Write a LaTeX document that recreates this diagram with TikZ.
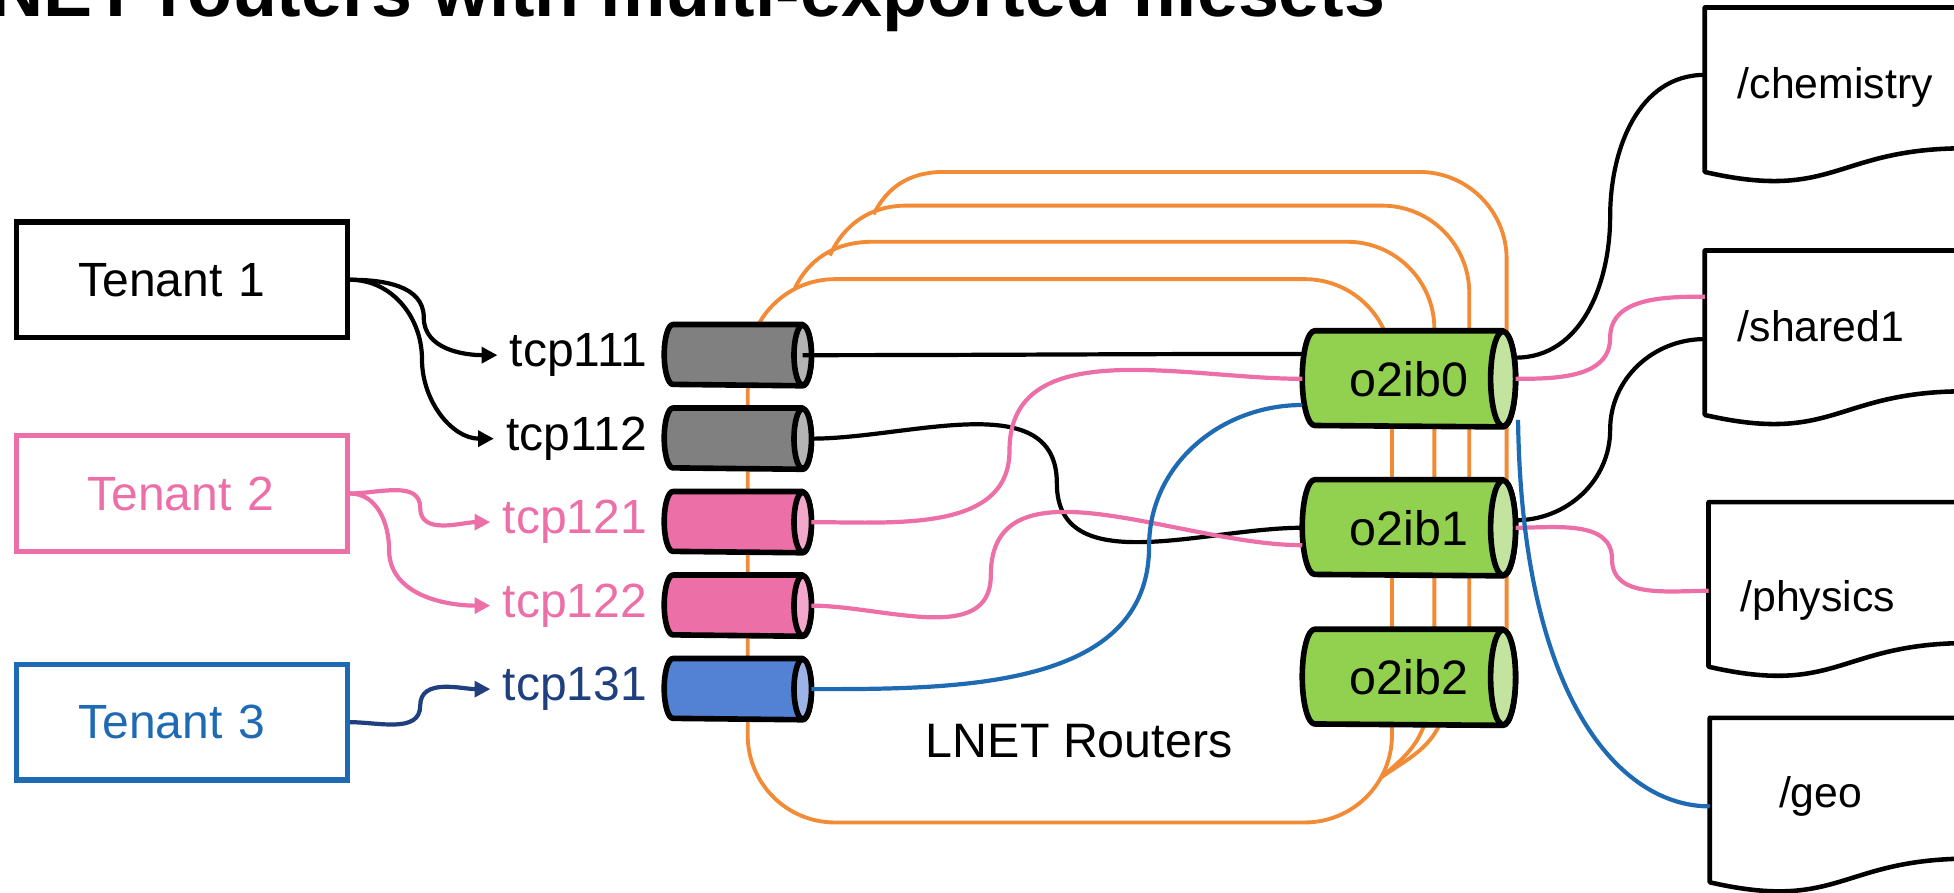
\documentclass[tikz,border=0pt]{standalone}
\usepackage{fontspec}
\setmainfont{Liberation Sans}
\usetikzlibrary{calc, arrows.meta, positioning, backgrounds}

\definecolor{lnorange}{RGB}{242,139,53}
\definecolor{lnpink}{RGB}{237,111,167}
\definecolor{lnpinkcap}{RGB}{243,167,202}
\definecolor{lnblue}{RGB}{30,107,180}
\definecolor{lnnavy}{RGB}{31,63,126}
\definecolor{lnsky}{RGB}{83,130,213}
\definecolor{lnskycap}{RGB}{155,179,230}
\definecolor{lngrey}{RGB}{128,128,128}
\definecolor{lngreycap}{RGB}{180,180,180}
\definecolor{lngreen}{RGB}{146,208,80}
\definecolor{lngreencap}{RGB}{195,228,159}

% cylinder drawn behind a node: name, body colour, end colour, x radius, y radius
\newcommand{\cyl}[5]{%
  \filldraw[cylline, fill=#2] ($(#1.north east)+(-#4,0)$) -- ($(#1.north west)+(#4,0)$) arc[start angle=90, end angle=270, x radius=#4, y radius=#5] -- ($(#1.south east)+(-#4,0)$) arc[start angle=-90, end angle=90, x radius=#4, y radius=#5] -- cycle;
  \filldraw[cylline, fill=#3] ($(#1.east)+(-#4,0)$) ellipse[x radius=#4, y radius=#5];}

\tikzset{
  tenant/.style={draw, line width=1.5pt, minimum width=3.32cm, minimum height=1.16cm, text width=2.075cm, align=left, font=\fontsize{13.7}{16}\selectfont},
  tcplbl/.style={font=\fontsize{13.7}{16}\selectfont},
  port/.style={anchor=west, inner sep=0, minimum width=1.4625cm, minimum height=0.6cm},
  router/.style={port, minimum width=2.125cm, minimum height=0.95cm, font=\fontsize{13.8}{16}\selectfont},
  cylline/.style={line width=1.6pt, line join=round},
  cable/.style={lnorange, line width=1.1pt},
  link/.style={line width=1.2pt},
  doc/.style={anchor=north west, minimum width=2.6125cm, minimum height=1.7625cm, inner sep=0},
  doctext/.style={anchor=base west, inner sep=0, font=\fontsize{12.2}{14}\selectfont},
  docline/.style={line width=1.3pt, line join=round}
}

\begin{document}
\begin{tikzpicture}[x=0.0125cm, y=-0.0125cm, >={Triangle[length=4.5pt,width=4.5pt]}]
\useasboundingbox (0,0) rectangle (1568,716);
\clip (0,0) rectangle (1568,716);
\node (title) [anchor=base west, inner sep=0, font=\fontsize{21}{24}\selectfont\bfseries] at (-44,13) {LNET routers with multi-exported filesets};

% tenants
\node (ten1) [tenant] at (146,224.5) {Tenant 1};
\node (ten2) [tenant, draw=lnpink, text=lnpink] at (146,396) {\hspace{0.09cm}Tenant 2};
\node (ten3) [tenant, draw=lnblue, text=lnblue] at (146,579.5) {Tenant 3};

% tcp networks
\node (c111) [port] at (533,285) {};
\node (c112) [port] at (533,352) {};
\node (c121) [port] at (533,419) {};
\node (c122) [port] at (533,486) {};
\node (c131) [port] at (533,553) {};

\node (t111) [tcplbl, left=0.5mm of c111] {tcp111};
\node (t112) [tcplbl, left=0.5mm of c112] {tcp112};
\node (t121) [tcplbl, text=lnpink, left=0.5mm of c121] {tcp121};
\node (t122) [tcplbl, text=lnpink, left=0.5mm of c122] {tcp122};
\node (t131) [tcplbl, text=lnnavy, left=0.5mm of c131] {tcp131};

% o2ib networks
\node (r0) [router] at (1045,304) {o2ib0};
\node (r1) [router] at (1045,423.5) {o2ib1};
\node (r2) [router] at (1045,543.5) {o2ib2};
\node (lnet) [font=\fontsize{13.8}{16}\selectfont] at (866,595) {LNET Routers};

\begin{scope}[on background layer]
  % orange cabling of the router pool
  \draw[cable, rounded corners=0.875cm] (600,224) rectangle (1117,660);
  \draw[cable] (638,231) .. controls (648,210) and (668,194) .. (700,194) -- (1081,194) arc[start angle=90, end angle=0, radius=0.875cm] -- (1151,540);
  \draw[cable] (666,205) .. controls (676,182) and (697,165) .. (727,165) -- (1109,165) arc[start angle=90, end angle=0, radius=0.875cm] -- (1179,540);
  \draw[cable] (701,172) .. controls (712,150) and (730,138) .. (757,138) -- (1139,138) arc[start angle=90, end angle=0, radius=0.875cm] -- (1209,540);
  \draw[cable] (1158,575) to[out=-110,in=35] (1108,624);
  \draw[cable] (1145,575) to[out=-105,in=40] (1108,624);

  \cyl{c111}{lngrey}{lngreycap}{0.0875cm}{0.3cm}
  \cyl{c112}{lngrey}{lngreycap}{0.0875cm}{0.3cm}
  \cyl{c121}{lnpink}{lnpinkcap}{0.0875cm}{0.3cm}
  \cyl{c122}{lnpink}{lnpinkcap}{0.0875cm}{0.3cm}
  \cyl{c131}{lnsky}{lnskycap}{0.0875cm}{0.3cm}
  \cyl{r0}{lngreen}{lngreencap}{0.125cm}{0.475cm}
  \cyl{r1}{lngreen}{lngreencap}{0.125cm}{0.475cm}
  \cyl{r2}{lngreen}{lngreencap}{0.125cm}{0.475cm}
\end{scope}

% filesets
\node (chem) [doc] at (1368,6) {};
\node (shared) [doc] at (1368,201) {};
\node (phys) [doc] at (1371,403) {};
\node (geo) [doc] at (1372,576) {};
\draw[docline] (chem.north east) -- (chem.north west) -- ($(chem.north west)+(0,132)$) .. controls ($(chem.north west)+(104.5,156)$) and ($(chem.north west)+(104.5,113)$) .. ($(chem.north west)+(209,113)$) -- cycle;
\draw[docline] (shared.north east) -- (shared.north west) -- ($(shared.north west)+(0,132)$) .. controls ($(shared.north west)+(104.5,156)$) and ($(shared.north west)+(104.5,113)$) .. ($(shared.north west)+(209,113)$) -- cycle;
\draw[docline] (phys.north east) -- (phys.north west) -- ($(phys.north west)+(0,132)$) .. controls ($(phys.north west)+(104.5,156)$) and ($(phys.north west)+(104.5,113)$) .. ($(phys.north west)+(209,113)$) -- cycle;
\draw[docline] (geo.north east) -- (geo.north west) -- ($(geo.north west)+(0,132)$) .. controls ($(geo.north west)+(104.5,156)$) and ($(geo.north west)+(104.5,113)$) .. ($(geo.north west)+(209,113)$) -- cycle;
\node (chemtxt) [doctext] at ($(chem.north west)+(26,73)$) {/chemistry};
\node (sharedtxt) [doctext] at ($(shared.north west)+(26,73)$) {/shared1};
\node (phystxt) [doctext] at ($(phys.north west)+(25,88)$) {/physics};
\node (geotxt) [doctext] at ($(geo.north west)+(55,72)$) {/geo};

% tenant -> tcp
\draw[link, ->] (ten1.east) to[out=0,in=90] ($(ten1.east)!.5!(t111.west)$) to[out=-90,in=180] (t111.west);
\draw[link, ->] (ten1.east) to[out=0,in=90] ($(ten1.east)!.5!(t112.west)$) to[out=-90,in=180] (t112.west);
\draw[link, lnpink, ->] (ten2.east) to[out=0,in=90] ($(ten2.east)!.5!(t121.west)$) to[out=-90,in=180] (t121.west);
\draw[link, lnpink, ->] (ten2.east) to[out=0,in=90] ($(ten2.east)!.5!(t122.west)+(-25,0)$) to[out=-90,in=180] (t122.west);
\draw[link, lnnavy, ->] (ten3.east) to[out=0,in=-90] ($(ten3.east)!.5!(t131.west)$) to[out=90,in=180] (t131.west);

% tcp -> o2ib
\draw[link] ($(c111.east)+(-0.0875cm,0)$) to[out=0,in=180] ($(r0.west)+(0,-20)$);
\draw[link] (c112.east) to[out=0,in=90] ($(c112.east)!.5!(r1.west)$) to[out=-90,in=180] (r1.west);
\draw[link, lnpink] (c121.east) to[out=0,in=-90] ($(c121.east)!.5!(r0.west)+(-38,0)$) to[out=90,in=180] (r0.west);
\draw[link, lnpink] (c122.east) to[out=0,in=-90] ($(c122.east)!.5!(r1.west)+(-53,7)$) to[out=90,in=180] ($(r1.west)+(0,14)$);
\draw[link, lnblue] (c131.east) to[out=0,in=-90] ($(c131.east)!.5!(r0.west)+(74,10)$) to[out=90,in=180] ($(r0.west)+(0,21)$);

% o2ib -> filesets
\draw[link] ($(r0.east)+(0,-17)$) to[out=0,in=-90] ($(r0.east)!.5!(chem.west)+(0,-17)$) to[out=90,in=180] ($(chem.west)+(0,-17)$);
\draw[link, lnpink] (r0.east) to[out=0,in=-90] ($(r0.east)!.5!(shared.west)+(0,-17)$) to[out=90,in=180] ($(shared.west)+(0,-34)$);
\draw[link] ($(r1.east)+(0,-6)$) to[out=0,in=-90] ($(r1.east)!.5!(shared.west)+(0,-3)$) to[out=90,in=180] (shared.west);
\draw[link, lnpink] (r1.east) to[out=0,in=90] ($(r1.east)!.5!(phys.west)$) to[out=-90,in=180] (phys.west);
\draw[link, lnblue] ($(r0.east)+(2,33)$) .. controls +(3,224) and +(-72,0) .. (geo.west);
\end{tikzpicture}
\end{document}
